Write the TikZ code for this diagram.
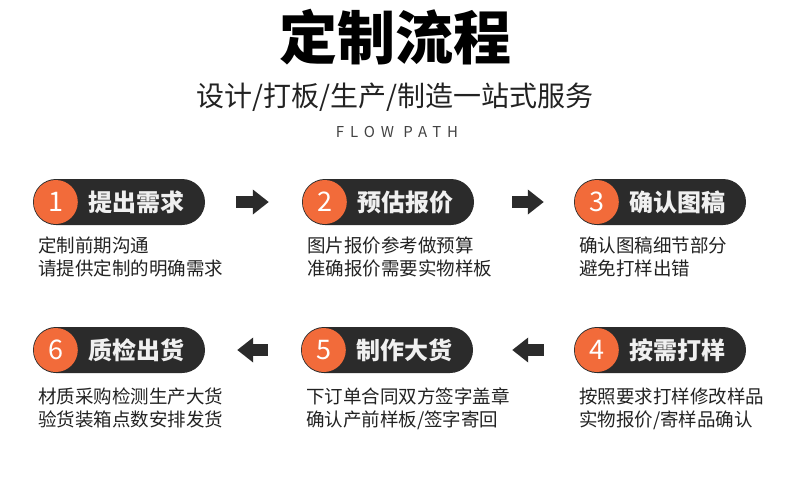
\documentclass[tikz,border=0pt]{standalone}
\usepackage{fontspec}
\setmainfont{Noto Sans CJK SC}
\newfontfamily\heavycjk{Noto Sans CJK SC Black}
\usepackage{xcolor}
\usepackage{tikz}
\usetikzlibrary{arrows.meta,calc,positioning}
\definecolor{pilldark}{HTML}{2B2B2B}
\definecolor{steporange}{HTML}{F26B3A}
\definecolor{desctext}{HTML}{222222}

\begin{document}
\begin{tikzpicture}[x=1pt,y=-1pt,
  pill/.style={fill=pilldark,rounded corners=23pt,minimum width=172pt,
               minimum height=46pt,inner sep=0pt},
  num/.style={circle,fill=steporange,minimum size=44pt,inner sep=0pt,
              text=white,font=\fontsize{27}{27}\selectfont},
  ttl/.style={anchor=west,text=white!94!black,inner sep=0pt,
              font=\fontsize{24}{24}\selectfont\bfseries},
  desc/.style={anchor=north west,align=left,text=desctext,inner sep=0pt,
               font=\fontsize{18.5}{23}\selectfont},
  blockarr/.style={-{Triangle[length=16pt,width=24pt]},line width=12pt,
                   draw=pilldark}]
  \useasboundingbox (0,0) rectangle (790,480);
  % heading
  \node[font=\fontsize{58}{58}\selectfont\heavycjk,inner sep=0pt] (head) at (395,37) {定制流程};
  \node[font=\fontsize{28}{28}\selectfont,text=desctext,inner sep=0pt] (sub) at (395,97) {设计/打板/生产/制造一站式服务};
  \node[font=\fontsize{15}{15}\selectfont\addfontfeatures{LetterSpace=40},text=desctext!85,inner sep=0pt] (flow) at (397,132) {FLOW PATH};
  % row 1
  \node[pill] (p1) at (119,202) {};
  \node[pill] (p2) at (388,202) {};
  \node[pill] (p3) at (660,202) {};
  \node[num] (n1) at ($(p1.west)+(23,0)$) {1};
  \node[num] (n2) at ($(p2.west)+(23,0)$) {2};
  \node[num] (n3) at ($(p3.west)+(23,0)$) {3};
  \node[ttl] (t1) at ($(p1.west)+(55,0)$) {提出需求};
  \node[ttl] (t2) at ($(p2.west)+(55,0)$) {预估报价};
  \node[ttl] (t3) at ($(p3.west)+(55,0)$) {确认图稿};
  \node[desc] (d1) at ($(p1.south west)+(5,11)$) {定制前期沟通\\请提供定制的明确需求};
  \node[desc] (d2) at ($(p2.south west)+(5,11)$) {图片报价参考做预算\\准确报价需要实物样板};
  \node[desc] (d3) at ($(p3.south west)+(5,11)$) {确认图稿细节部分\\避免打样出错};
  % row 2
  \node[pill] (p4) at (660,350) {};
  \node[pill] (p5) at (387,350) {};
  \node[pill] (p6) at (119,350) {};
  \node[num] (n4) at ($(p4.west)+(23,0)$) {4};
  \node[num] (n5) at ($(p5.west)+(23,0)$) {5};
  \node[num] (n6) at ($(p6.west)+(23,0)$) {6};
  \node[ttl] (t4) at ($(p4.west)+(55,0)$) {按需打样};
  \node[ttl] (t5) at ($(p5.west)+(55,0)$) {制作大货};
  \node[ttl] (t6) at ($(p6.west)+(55,0)$) {质检出货};
  \node[desc] (d4) at ($(p4.south west)+(5,14)$) {按照要求打样修改样品\\实物报价/寄样品确认};
  \node[desc] (d5) at ($(p5.south west)+(5,14)$) {下订单合同双方签字盖章\\确认产前样板/签字寄回};
  \node[desc] (d6) at ($(p6.south west)+(5,14)$) {材质采购检测生产大货\\验货装箱点数安排发货};
  % arrows
  \draw[blockarr,shorten <=31pt,shorten >=33pt] (p1) -- (p2);
  \draw[blockarr,shorten <=38pt,shorten >=30pt] (p2) -- (p3);
  \draw[blockarr,shorten <=30pt,shorten >=39pt] (p4) -- (p5);
  \draw[blockarr,shorten <=33pt,shorten >=32pt] (p5) -- (p6);
\end{tikzpicture}
\end{document}
